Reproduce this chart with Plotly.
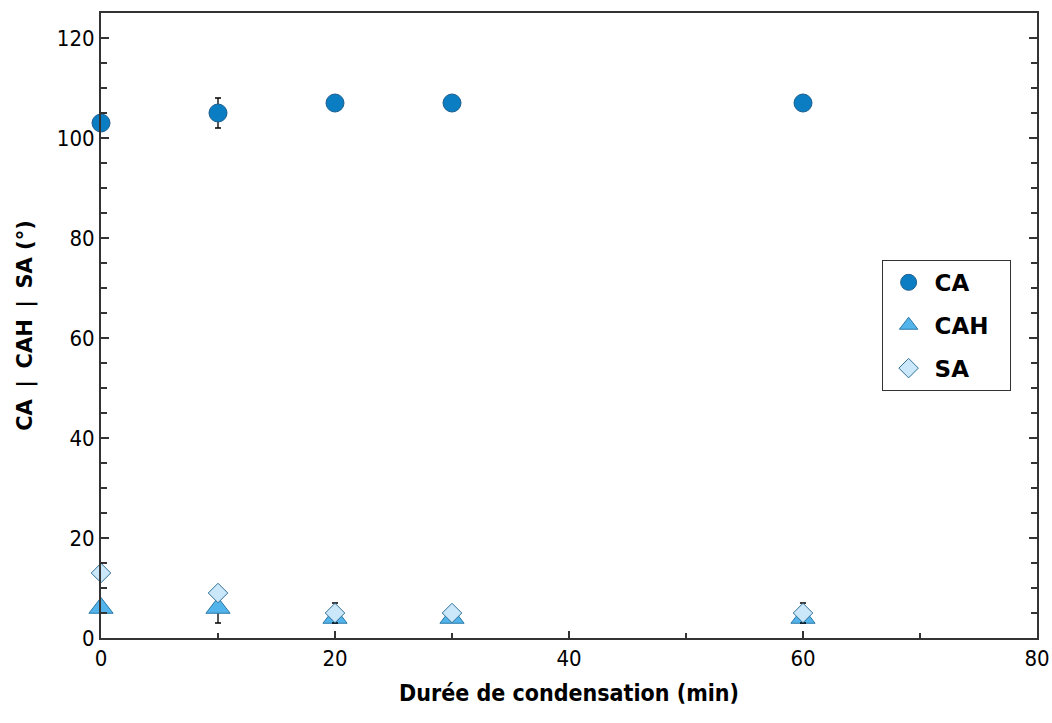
import plotly.graph_objects as go

durations = [0, 10, 20, 30, 60]
ca = [103, 105, 107, 107, 107]
ca_err = [0, 3, 0, 0, 0]
cah = [6, 6, 4, 4, 4]
cah_err = [0, 3, 0, 0, 0]
sa = [13, 9, 5, 5, 5]
sa_err = [0, 0, 2, 0, 2]

x_ticks = [0, 20, 40, 60, 80]
y_ticks = [0, 20, 40, 60, 80, 100, 120]

fig = go.Figure()

def add(name, y, err, symbol, size, fill, line):
    fig.add_trace(go.Scatter(
        x=durations, y=y, name=name, mode="markers", legendgroup=name,
        cliponaxis=False,
        marker=dict(symbol=symbol, size=size, color=fill, line=dict(color=line, width=1)),
        error_y=dict(type="data", array=err, visible=True, color="black", thickness=1.3, width=3),
    ))

add("CA", ca, ca_err, "circle", 18, "#0a7dc3", "#1d5f8e")
add("CAH\u00a0\u00a0", cah, cah_err, "triangle-up", 21, "#52b4ea", "#2a78a8")
add("SA", sa, sa_err, "diamond", 15, "#cbe7fa", "#2f6f96")

tick_font = "DejaVu Sans Condensed, DejaVu Sans"

fig.update_layout(
    width=1052, height=723,
    margin=dict(l=101, r=15, t=13, b=85, autoexpand=False),
    paper_bgcolor="white", plot_bgcolor="white",
    font=dict(family=tick_font, size=22, color="black"),
    showlegend=True,
    legend=dict(
        x=0.834, y=0.605, xanchor="left", yanchor="top",
        bordercolor="#333", borderwidth=1, bgcolor="white",
        font=dict(family="DejaVu Sans", size=23, color="black", weight="bold"),
        tracegroupgap=10, traceorder="grouped", itemwidth=42,
    ),
    xaxis=dict(
        range=[0, 80], tickvals=x_ticks, showgrid=False, zeroline=False, automargin=False,
        showline=True, linecolor="#333", linewidth=2, mirror=True,
        ticks="inside", ticklen=7, tickcolor="#333", tickwidth=1.5,
        minor=dict(dtick=10, ticks="inside", ticklen=5, tickcolor="#333", tickwidth=1.5),
        title=dict(text="Durée de condensation (min)", standoff=14,
                   font=dict(family=tick_font, size=23, weight="bold")),
        tickfont=dict(size=22),
    ),
    yaxis=dict(
        range=[0, 125], tickvals=y_ticks, showgrid=False, zeroline=False, automargin=False,
        showline=True, linecolor="#333", linewidth=2, mirror="allticks",
        ticks="inside", ticklen=8, tickcolor="#333", tickwidth=1.5,
        minor=dict(dtick=5, ticks="inside", ticklen=6, tickcolor="#333", tickwidth=1.5),
        title=dict(text="CA\u2009 |\u2009 CAH\u2009 |\u2009 SA (°)", standoff=18,
                   font=dict(family="DejaVu Sans", size=21, weight="bold")),
        tickfont=dict(size=22),
    ),
)

fig.write_html("out.html", config={"displayModeBar": False},
               post_script="document.body.style.margin='0';document.body.style.overflow='hidden';")
